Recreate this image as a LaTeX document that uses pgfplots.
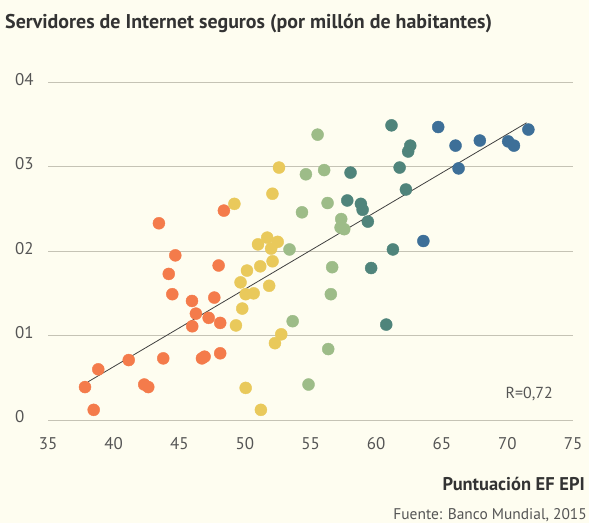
\documentclass[border=0pt]{standalone}
\usepackage{pgfplots}
\pgfplotsset{compat=1.18}
\usepackage{fontspec}
\setmainfont{PT Sans}
\definecolor{bg}{HTML}{FEFDF0}
\definecolor{corange}{HTML}{F47B4B}
\definecolor{cyellow}{HTML}{E9C95B}
\definecolor{cgreen}{HTML}{9DBC88}
\definecolor{cteal}{HTML}{4F847B}
\definecolor{cblue}{HTML}{3D6F98}
\definecolor{gridc}{HTML}{C5C3B5}
\definecolor{txtgray}{HTML}{555555}
\definecolor{titlec}{HTML}{333333}
\begin{document}
\begin{tikzpicture}[x=1bp,y=1bp]
\fill[bg] (0,0) rectangle (589,523);
\begin{axis}[
  at={(48bp,103bp)}, anchor=south west,
  scale only axis, width=525bp, height=337.7bp,
  xmin=35, xmax=75, ymin=0, ymax=4,
  axis line style={draw=none},
  major tick length=0pt,
  xtick={35,40,45,50,55,60,65,70,75},
  xticklabels={35,40,45,50,55,60,65,70,75},
  ytick={0,1,2,3,4},
  yticklabels={0,01,02,03,04},
  /pgf/number format/assume math mode=true,
  ymajorgrids,
  grid style={gridc, line width=0.9pt},
  clip=false,
  ticklabel style={font=\fontsize{17}{17}\selectfont, text=txtgray, inner sep=0pt},
  xticklabel style={anchor=north, yshift=-17bp},
  yticklabel style={anchor=west, xshift=-33bp, yshift=3bp},
  every axis plot/.append style={only marks, mark=*, mark size=6bp},
]
% orange
\addplot[mark options={fill=corange, draw=corange}] coordinates {
(48.4,2.48) (43.45,2.33) (44.7,1.95) (44.2,1.73) (48.0,1.83) (44.47,1.49)
(45.97,1.41) (47.67,1.45) (46.27,1.26) (47.24,1.21) (48.12,1.15) (45.99,1.11)
(41.15,0.71) (38.83,0.60) (43.78,0.73) (46.73,0.73) (46.93,0.75) (48.12,0.79)
(37.82,0.39) (42.33,0.42) (42.64,0.39) (38.48,0.12)
};
% yellow
\addplot[mark options={fill=cyellow, draw=cyellow}] coordinates {
(52.6,2.99) (52.1,2.68) (49.2,2.56) (51.0,2.08) (51.7,2.16) (52.5,2.11)
(52.0,2.03) (50.16,1.77) (51.17,1.82) (52.11,1.88) (49.67,1.63) (50.06,1.49)
(50.67,1.50) (51.85,1.59) (49.8,1.32) (49.32,1.12) (52.77,1.015) (52.29,0.91)
(50.06,0.38) (51.22,0.12)
};
% green
\addplot[mark options={fill=cgreen, draw=cgreen}] coordinates {
(53.4,2.02) (55.54,3.38) (56.04,2.96) (54.65,2.91) (56.3,2.57) (54.35,2.46)
(57.34,2.38) (57.29,2.28) (57.57,2.26) (53.64,1.17) (56.65,1.81) (56.55,1.49)
(56.35,0.84) (54.85,0.42)
};
% teal
\addplot[mark options={fill=cteal, draw=cteal}] coordinates {
(61.17,3.49) (62.6,3.25) (62.44,3.18) (61.79,2.99) (58.05,2.93) (62.27,2.73)
(57.8,2.60) (58.84,2.56) (58.97,2.49) (59.37,2.35) (61.28,2.02) (59.62,1.80)
(60.77,1.13)
};
% blue
\addplot[mark options={fill=cblue, draw=cblue}] coordinates {
(64.73,3.47) (66.05,3.25) (67.9,3.31) (70.06,3.30) (70.5,3.25) (71.6,3.44)
(66.28,2.98) (63.6,2.12)
};
% trend line
\addplot[no marks, sharp plot, draw=black!75, line width=0.8pt] coordinates {(38.07,0.454) (71.46,3.52)};
\end{axis}
\node[anchor=base west, inner sep=0pt, text=titlec, font=\fontsize{20}{20}\selectfont\bfseries] at (5,494) {Servidores de Internet seguros (por millón de habitantes)};
\node[anchor=base east, inner sep=0pt, text=txtgray, font=\fontsize{16}{16}\selectfont] at (553,124.7) {R=0,72};
\node[anchor=base east, inner sep=0pt, text=titlec, font=\fontsize{18.5}{18.5}\selectfont\bfseries] at (585,32) {Puntuación EF EPI};
\node[anchor=base east, inner sep=0pt, text=txtgray, font=\fontsize{15.5}{15.5}\selectfont] at (587,3) {Fuente: Banco Mundial, 2015};
\pgfresetboundingbox
\useasboundingbox (0,0) rectangle (589,523);
\end{tikzpicture}
\end{document}
